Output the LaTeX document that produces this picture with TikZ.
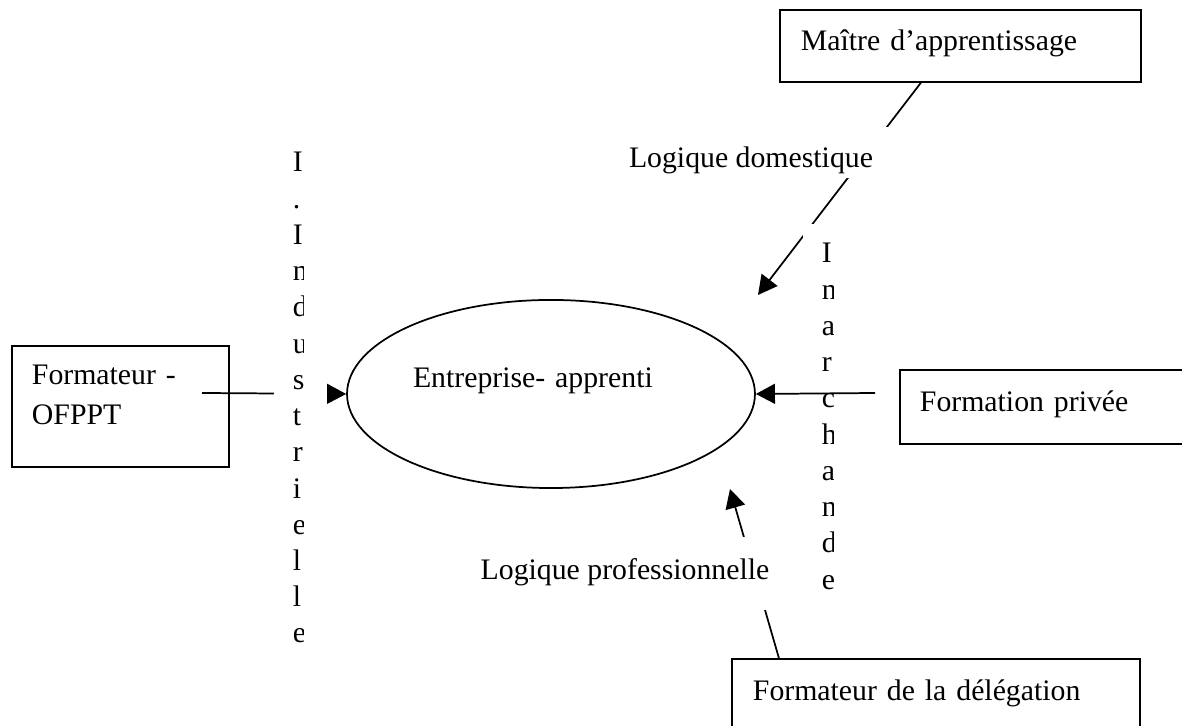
\documentclass[tikz,border=0pt]{standalone}
\usepackage{fontspec}
\setmainfont{Liberation Serif}
\usetikzlibrary{arrows.meta,shapes.geometric}

\begin{document}
\begin{tikzpicture}[x=0.403pt,y=-0.403pt,line width=.7pt,>={Triangle[length=7.7pt,width=8pt]}]
        \tikzstyle{every node} = [font=\fontsize{12}{16.1}\selectfont]
        \tikzstyle{box} = [draw, rectangle, anchor=north west, inner ysep=0pt, align=left]
        \tikzstyle{colbox} = [fill=white, inner sep=0pt, minimum width=21.4pt, anchor=north west]
        \tikzstyle{coltext} = [anchor=base west, inner sep=0pt, align=left, text width=10pt, font=\fontsize{12}{14.6}\selectfont]
        \tikzstyle{logic} = [fill=white, anchor=base, inner xsep=6pt, inner ysep=0pt]
        \useasboundingbox (0,0) rectangle (1182,726);
        \node[box, inner xsep=8.5pt, text width=128.5pt, text height=16.5pt, text depth=12.5pt] (maitre) at (779,9) {Maître d’apprentissage};
        \node[box, inner xsep=8.1pt, text width=71.3pt, text height=15.7pt, text depth=33pt] (ofppt) at (11,345) {Formateur -\\OFPPT};
        \node[box, inner xsep=8.1pt, text width=103.2pt, text height=16.9pt, text depth=12.9pt] (privee) at (899,369) {Formation privée};
        \node[box, inner xsep=8.5pt, text width=147.5pt, text height=16.9pt, text depth=18.1pt] (deleg) at (731,658) {Formateur de la délégation};
        \node[draw, ellipse, minimum width=164.4pt, minimum height=75.8pt, inner sep=0pt, text width=111.2pt, align=left, text height=8pt, text depth=12.9pt] (ent) at (551,394) {Entreprise- apprenti};
        \coordinate (domfrom) at ([xshift=57.2pt]maitre.south west);
        \coordinate (domtip) at (758,295);
        \coordinate (indfrom) at (202,393);
        \coordinate (marfrom) at (875,393);
        \coordinate (profrom) at ([xshift=19.3pt]deleg.north west);
        \coordinate (protip) at (730,489);
        \foreach \from/\to in {domfrom/domtip, indfrom/ent.west}
            \draw[->] (\from) -- (\to);
        % vertical labels
        \node[colbox, minimum height=212.4pt] (indbox) at (273,133) {};
        \begin{scope}
            \clip (indbox.north west) rectangle ([xshift=12.3pt]indbox.south west);
            \node[coltext] (ind) at (292,172) {I\\.\\I\\n\\d\\u\\s\\t\\r\\i\\e\\l\\l\\e};
        \end{scope}
        \node[colbox, minimum height=154pt] (marbox) at (802,223) {};
        \begin{scope}
            \clip (marbox.north west) rectangle ([xshift=12.5pt]marbox.south west);
            \node[coltext] (mar) at (821,263) {I\\n\\a\\r\\c\\h\\a\\n\\d\\e};
        \end{scope}
        \foreach \from/\to in {marfrom/ent.east, profrom/protip}
            \draw[->] (\from) -- (\to);
        \node[logic, text height=16.5pt, text depth=4pt] (dom) at (751,168) {Logique domestique};
        \node[logic, text height=17.3pt, text depth=12.1pt] (pro) at (625,580) {Logique professionnelle};
\end{tikzpicture}
\end{document}
